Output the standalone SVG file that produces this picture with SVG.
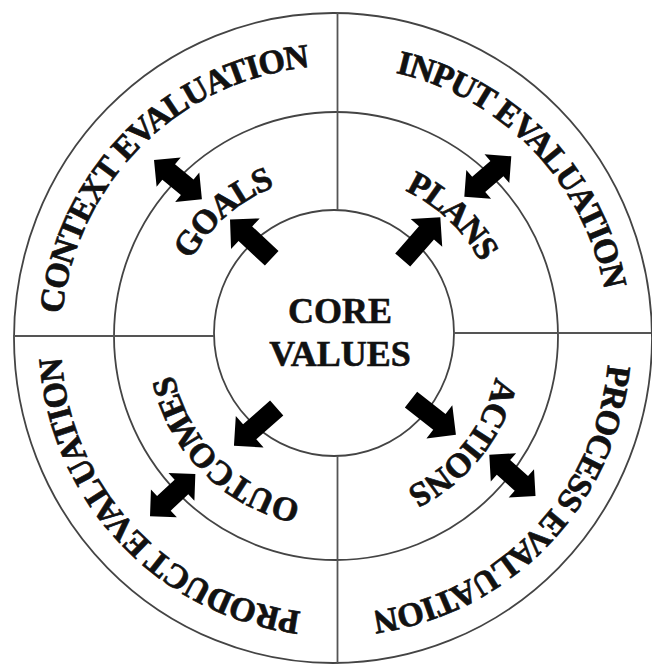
<svg xmlns="http://www.w3.org/2000/svg" xmlns:xlink="http://www.w3.org/1999/xlink" width="652" height="666" viewBox="0 0 652 666">
<style>
.ring{fill:none;stroke:#444;stroke-width:1.8}
.div{stroke:#555;stroke-width:1.8;fill:none}
.lbl{font-family:"Liberation Serif","Times New Roman",serif;font-weight:bold;font-size:34px;letter-spacing:-1.2px;fill:#111;stroke:#111;stroke-width:0.7}
.core{font-family:"Liberation Serif","Times New Roman",serif;font-weight:bold;font-size:36px;fill:#111;stroke:#111;stroke-width:0.6;text-anchor:middle}
.arw{fill:#000}
</style>
<defs>
<path id="single" d="M0,-10 H36 V-21 L57,0 L36,21 V10 H0 Z"/>
<path id="double" d="M0,0 L19,-19 V-10 H43 V-19 L62,0 L43,19 V10 H19 V19 Z"/>
<path id="pContext" d="M110.6,497.2 A274,274 0 0 1 492.2,115.6"/>
<path id="pInput" d="M181.8,112.9 A274,274 0 0 1 556.7,501.1"/>
<path id="pProcess" d="M555.5,177.4 A274,274 0 0 1 183.4,568.2"/>
<path id="pProduct" d="M485.4,569.0 A274,274 0 0 1 115.3,176.3"/>
<path id="pGoals" d="M194.2,426.0 A165,165 0 0 1 437.9,211.1"/>
<path id="pPlans" d="M236.4,207.7 A165,165 0 0 1 472.9,430.6"/>
<path id="pActions" d="M458.6,230.7 A165,165 0 0 1 256.3,485.0"/>
<path id="pOutcomes" d="M430.4,474.7 A165,165 0 0 1 199.4,246.1"/>
</defs>
<rect width="652" height="666" fill="#fff"/>
<g id="rings">
<ellipse class="ring" cx="333" cy="338" rx="319" ry="325"/>
<ellipse class="ring" cx="336" cy="336" rx="222" ry="224"/>
<ellipse class="ring" cx="334" cy="333" rx="120" ry="123"/>
<line class="div" x1="337.5" y1="13" x2="337.5" y2="210"/>
<line class="div" x1="337.5" y1="456" x2="337.5" y2="664"/>
<line class="div" x1="13" y1="336" x2="214" y2="336"/>
<line class="div" x1="454" y1="333" x2="651" y2="333"/>
</g>
<g id="core"><text class="core" x="340" y="323">CORE</text><text class="core" x="340" y="366">VALUES</text></g>
<g id="goals"><text class="lbl"><textPath xlink:href="#pGoals" href="#pGoals" startOffset="50%" text-anchor="middle">GOALS</textPath></text></g>
<g id="plans"><text class="lbl"><textPath xlink:href="#pPlans" href="#pPlans" startOffset="50%" text-anchor="middle">PLANS</textPath></text></g>
<g id="actions"><text class="lbl"><textPath xlink:href="#pActions" href="#pActions" startOffset="50%" text-anchor="middle">ACTIONS</textPath></text></g>
<g id="outcomes"><text class="lbl"><textPath xlink:href="#pOutcomes" href="#pOutcomes" startOffset="50%" text-anchor="middle">OUTCOMES</textPath></text></g>
<g id="context"><text class="lbl"><textPath xlink:href="#pContext" href="#pContext" startOffset="50%" text-anchor="middle">CONTEXT EVALUATION</textPath></text></g>
<g id="input"><text class="lbl"><textPath xlink:href="#pInput" href="#pInput" startOffset="50%" text-anchor="middle">INPUT EVALUATION</textPath></text></g>
<g id="process"><text class="lbl"><textPath xlink:href="#pProcess" href="#pProcess" startOffset="50%" text-anchor="middle">PROCESS EVALUATION</textPath></text></g>
<g id="product"><text class="lbl"><textPath xlink:href="#pProduct" href="#pProduct" startOffset="50%" text-anchor="middle">PRODUCT EVALUATION</textPath></text></g>
<g id="connectors" class="arw">
<use href="#single" transform="translate(271.7,258.3) rotate(-137)"/>
<use href="#single" transform="translate(402.7,260) rotate(-48.7)"/>
<use href="#single" transform="translate(411,399.7) rotate(38)"/>
<use href="#single" transform="translate(276.7,408) rotate(138.6)"/>
<use href="#double" transform="translate(154,160) rotate(39.4)"/>
<use href="#double" transform="translate(464.3,196.7) rotate(-40.7)"/>
<use href="#double" transform="translate(489.3,454.7) rotate(41.8)"/>
<use href="#double" transform="translate(150,516.3) rotate(-43)"/>
</g>
</svg>
